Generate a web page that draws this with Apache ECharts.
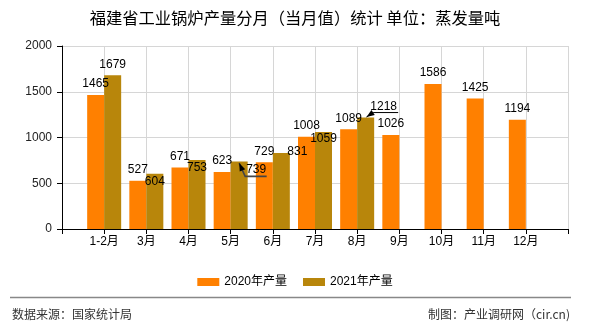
<!DOCTYPE html>
<html>
<head>
<meta charset="utf-8">
<script src="https://cdn.jsdelivr.net/npm/echarts@6/dist/echarts.min.js"></script>
<style>
html,body{margin:0;padding:0;background:#fff;}
#chart{width:590px;height:330px;}
</style>
</head>
<body>
<div id="chart"></div>
<script>
// ---- data ----
const titleText = '福建省工业锅炉产量分月（当月值）统计 单位：蒸发量吨';
const categories = ['1-2月', '3月', '4月', '5月', '6月', '7月', '8月', '9月', '10月', '11月', '12月'];
const prod2020 = [1465, 527, 671, 623, 729, 1008, 1089, 1026, 1586, 1425, 1194];
const prod2021 = [1679, 604, 753, 739, 831, 1059, 1218];
const seriesNames = ['2020年产量', '2021年产量'];
const sourceText = '数据来源：国家统计局';
const creditText = '制图：产业调研网（cir.cn)';

// ---- label tweaks (styling only) ----
const shift2021 = { '3月': [0, 19], '4月': [0, 19], '5月': [17, 19], '6月': [16, 10], '7月': [0, 18], '8月': [18, 0] };
// pointer lines for moved labels: offsets relative to the category tick and bar top
const pointers = [
  { cat: '5月', tip: [8.5, 1.7], bend: [14.5, 15], end: [36, 15], color: '#444', width: 1.6 },
  { cat: '8月', tip: [9.3, -0.5], bend: [16, -5], end: [41, -5], color: '#000', width: 1 }
];

// ---- build ----
const xData = [''].concat(categories, ['']);
const s2020 = xData.map((c, i) => (i === 0 || i === xData.length - 1) ? null : prod2020[i - 1]);
const s2021 = xData.map((c, i) => (i >= 1 && i - 1 < prod2021.length) ? prod2021[i - 1] : null);

const chart = echarts.init(document.getElementById('chart'), null, { renderer: 'canvas' });
const FONT = '"Liberation Sans", "Noto Sans CJK SC", sans-serif';
const footer = [
  { id: 'rule', type: 'line', shape: { x1: 10, y1: 297.5, x2: 571, y2: 297.5 }, style: { stroke: '#888', lineWidth: 1.5 }, silent: true },
  { id: 'src', type: 'text', left: 12, top: 308, style: { text: sourceText, font: '12px "Noto Sans CJK SC", sans-serif', fill: '#333' } },
  { id: 'credit', type: 'text', right: 20, top: 308, style: { text: creditText, font: '12px "Noto Sans CJK SC", sans-serif', fill: '#333' } }
];
chart.setOption({
  animation: false,
  textStyle: { fontFamily: FONT },
  title: {
    text: titleText, left: 'center', top: 10, padding: 0,
    textStyle: { fontSize: 16.3, fontWeight: 'normal', color: '#000', fontFamily: '"Noto Sans CJK SC", sans-serif' }
  },
  legend: {
    top: 271, left: 'center', itemWidth: 22, itemHeight: 8, itemGap: 16, icon: 'rect',
    textStyle: { fontSize: 12, color: '#000', fontFamily: FONT },
    data: seriesNames
  },
  grid: { left: 62, right: 22, top: 46, bottom: 101, containLabel: false },
  xAxis: {
    type: 'category', data: xData, boundaryGap: false,
    axisLine: { lineStyle: { color: '#000', width: 1 } },
    axisTick: { show: true, length: 5, lineStyle: { color: '#000' } },
    axisLabel: { interval: 0, fontSize: 12, color: '#000', margin: 7 },
    splitLine: { show: true, lineStyle: { color: '#d6d6d6', width: 1 } }
  },
  yAxis: {
    type: 'value', min: 0, max: 2000, interval: 500,
    axisLine: { show: true, lineStyle: { color: '#000', width: 1 } },
    axisTick: { show: true, length: 5, lineStyle: { color: '#000' } },
    axisLabel: { fontSize: 12, color: '#222', margin: 10, formatter: v => String(v) },
    splitLine: { show: true, lineStyle: { color: '#d6d6d6', width: 1 } }
  },
  series: [
    {
      name: seriesNames[0], type: 'bar', data: s2020, barWidth: 17, barGap: '0%',
      itemStyle: { color: '#FF8000' },
      label: { show: true, position: 'top', distance: 5, fontSize: 12, color: '#000' }
    },
    {
      name: seriesNames[1], type: 'bar', data: s2021, barWidth: 17, barGap: '0%',
      itemStyle: { color: '#B8860B' },
      label: { show: true, position: 'top', distance: 5, fontSize: 12, color: '#000' },
      labelLayout: function (p) {
        const s = shift2021[xData[p.dataIndex]];
        return s ? { dx: s[0], dy: s[1] } : {};
      }
    }
  ],
  graphic: footer
});

// pointer annotations, positioned through the chart's own axes
const extra = [];
pointers.forEach((pt, k) => {
  const idx = xData.indexOf(pt.cat);
  const val = s2021[idx];
  const tx = chart.convertToPixel({ xAxisIndex: 0 }, idx);
  const ty = chart.convertToPixel({ yAxisIndex: 0 }, val);
  const P = o => [tx + o[0], ty + o[1]];
  const tip = P(pt.tip), bend = P(pt.bend), end = P(pt.end);
  extra.push({ id: 'pl' + k, type: 'polyline', shape: { points: [tip, bend, end] },
    style: { stroke: pt.color, lineWidth: pt.width, fill: null }, silent: true, z: 100 });
  const dx = tip[0] - bend[0], dy = tip[1] - bend[1];
  const L = Math.sqrt(dx * dx + dy * dy), ux = dx / L, uy = dy / L;
  const len = 8, hw = 3;
  const bx = tip[0] - ux * len, by = tip[1] - uy * len;
  extra.push({ id: 'ah' + k, type: 'polygon',
    shape: { points: [tip, [bx - uy * hw, by + ux * hw], [bx + uy * hw, by - ux * hw]] },
    style: { fill: '#000' }, silent: true, z: 100 });
});
chart.setOption({ graphic: footer.concat(extra) });
</script>
</body>
</html>
